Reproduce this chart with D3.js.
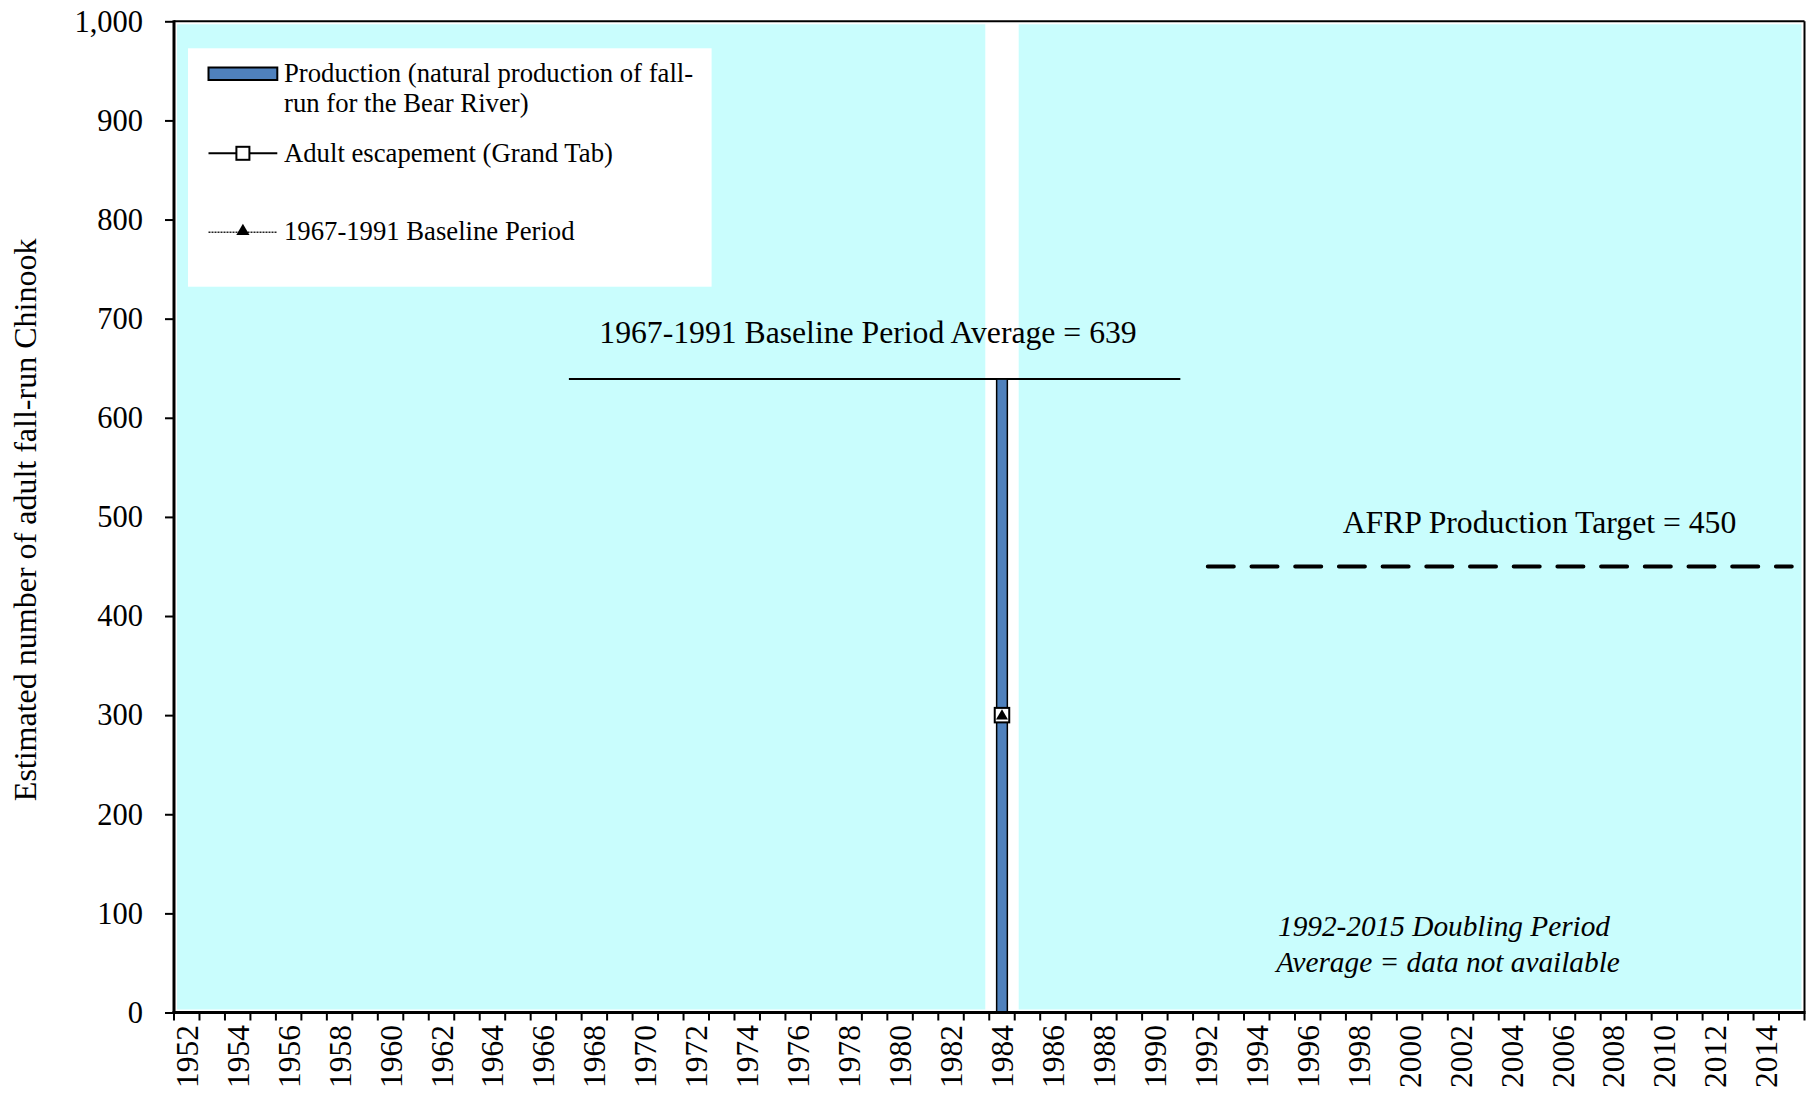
<!DOCTYPE html>
<html>
<head>
<meta charset="utf-8">
<script src="https://cdn.jsdelivr.net/npm/d3@7"></script>
<style>
  html, body { margin: 0; padding: 0; background: #ffffff; }
  svg { display: block; }
  text { font-family: "Liberation Serif", "Times New Roman", serif; fill: #000; }
</style>
</head>
<body>
<svg id="chart" width="1816" height="1101"></svg>
<script>
// ---------------- DATA ----------------
const years = [1952,1953,1954,1955,1956,1957,1958,1959,1960,1961,1962,1963,1964,1965,1966,1967,
  1968,1969,1970,1971,1972,1973,1974,1975,1976,1977,1978,1979,1980,1981,1982,1983,1984,1985,
  1986,1987,1988,1989,1990,1991,1992,1993,1994,1995,1996,1997,1998,1999,2000,2001,2002,2003,
  2004,2005,2006,2007,2008,2009,2010,2011,2012,2013,2014,2015];
const xTickLabels = [1952,1954,1956,1958,1960,1962,1964,1966,1968,1970,1972,1974,1976,1978,1980,
  1982,1984,1986,1988,1990,1992,1994,1996,1998,2000,2002,2004,2006,2008,2010,2012,2014];
const yTicks = [0,100,200,300,400,500,600,700,800,900,1000];

const productionYears = [1984];
const productionValues = [639];
const escapementYears = [1984];
const escapementValues = [300];
const baselineYears = [1984];
const baselineValues = [300];
const highlightYears = [1984];

const baselineAverage = 639;
const baselinePeriod = [1967, 1991];
const targetValue = 450;
const targetPeriod = [1992, 2015];

const legendLabels = [
  ["Production (natural production of fall-", "run for the Bear River)"],
  ["Adult escapement (Grand Tab)"],
  ["1967-1991 Baseline Period"]
];
const yAxisTitle = "Estimated number of adult fall-run Chinook";
const baselineLabel = "1967-1991 Baseline Period Average = 639";
const targetLabel = "AFRP Production Target = 450";
const doublingLabel = ["1992-2015 Doubling Period", "Average = data not available"];

// ---------------- LAYOUT ----------------
const svg = d3.select("#chart");
const L = 174, R = 1804.5, T = 21.3, B = 1012.5;
const x = d3.scaleBand().domain(years).range([L, R]).padding(0);
const y = d3.scaleLinear().domain([0, 1000]).range([B, T]);
const bw = x.bandwidth();
const cx = d => x(d) + bw / 2;

const BLUE = "#4f81bd";
const CYAN = "#c9fdfd";

// plot background
svg.append("rect").attr("x", L).attr("y", T).attr("width", R - L).attr("height", B - T).attr("fill", "#fff");
svg.append("rect").attr("x", L + 3).attr("y", T + 3).attr("width", R - L - 6).attr("height", B - T - 6).attr("fill", CYAN);

// white highlight stripe
svg.selectAll(".stripe").data(highlightYears).join("rect")
  .attr("x", d => cx(d) - bw * 0.655).attr("width", bw * 1.31)
  .attr("y", T + 1).attr("height", B - T - 1).attr("fill", "#fff");

// legend box
svg.append("rect").attr("x", 188).attr("y", 48.3).attr("width", 523.6).attr("height", 238.4).attr("fill", "#fff");

// baseline average line
svg.append("line")
  .attr("x1", cx(baselinePeriod[0])).attr("x2", cx(baselinePeriod[1]))
  .attr("y1", y(baselineAverage)).attr("y2", y(baselineAverage))
  .attr("stroke", "#000").attr("stroke-width", 2);

// target dashed line
svg.append("line")
  .attr("x1", cx(targetPeriod[0]) + 2).attr("x2", cx(targetPeriod[1]))
  .attr("y1", y(targetValue)).attr("y2", y(targetValue))
  .attr("stroke", "#000").attr("stroke-width", 4)
  .attr("stroke-dasharray", "26,17.7").attr("stroke-linecap", "round");

// production bars
const barW = bw * 0.42;
svg.selectAll(".bar").data(productionYears.map((d, i) => ({year: d, value: productionValues[i]}))).join("rect")
  .attr("x", d => cx(d.year) - barW / 2).attr("width", barW)
  .attr("y", d => y(d.value)).attr("height", d => B - y(d.value))
  .attr("fill", BLUE).attr("stroke", "#000").attr("stroke-width", 1.5);

// escapement markers (open squares)
const sq = 14.5;
svg.selectAll(".esc").data(escapementYears.map((d, i) => ({year: d, value: escapementValues[i]}))).join("rect")
  .attr("x", d => cx(d.year) - sq / 2).attr("y", d => y(d.value) - sq / 2)
  .attr("width", sq).attr("height", sq)
  .attr("fill", "#fff").attr("stroke", "#000").attr("stroke-width", 2);

// baseline markers (filled triangles)
const tri = d3.symbol().type(d3.symbolTriangle).size(62);
svg.selectAll(".base").data(baselineYears.map((d, i) => ({year: d, value: baselineValues[i]}))).join("path")
  .attr("d", tri)
  .attr("transform", d => `translate(${cx(d.year)},${y(d.value) + 1})`)
  .attr("fill", "#000");

// ---------------- AXES ----------------
const yAxis = d3.axisLeft(y).tickValues(yTicks).tickSize(9).tickPadding(22).tickFormat(d3.format(","));
const gy = svg.append("g").attr("transform", `translate(${L},0)`).call(yAxis);
gy.select(".domain").remove();
gy.selectAll(".tick line").attr("stroke", "#000").attr("stroke-width", 2);
gy.selectAll(".tick text").attr("font-size", 30.5).attr("font-family", "Liberation Serif, serif").attr("fill", "#000");

const xAxis = d3.axisBottom(x).tickValues(xTickLabels).tickSize(0).tickPadding(0);
const gx = svg.append("g").attr("transform", `translate(0,${B})`).call(xAxis);
gx.select(".domain").remove();
gx.selectAll(".tick text")
  .attr("transform", "rotate(-90)")
  .attr("x", -12.5).attr("y", 0).attr("dy", "0.35em")
  .attr("text-anchor", "end")
  .attr("font-size", 31.5).attr("font-family", "Liberation Serif, serif").attr("fill", "#000");

// x tick marks at category boundaries
const boundaries = years.map(d => x(d)).concat([R]);
svg.append("g").selectAll("line").data(boundaries).join("line")
  .attr("x1", d => d).attr("x2", d => d).attr("y1", B).attr("y2", B + 8)
  .attr("stroke", "#000").attr("stroke-width", 2);

// frame
svg.append("line").attr("x1", L).attr("x2", R).attr("y1", T).attr("y2", T).attr("stroke", "#000").attr("stroke-width", 2);
svg.append("line").attr("x1", R).attr("x2", R).attr("y1", T).attr("y2", B).attr("stroke", "#000").attr("stroke-width", 2);
svg.append("line").attr("x1", L).attr("x2", L).attr("y1", T - 1).attr("y2", B + 1.5).attr("stroke", "#000").attr("stroke-width", 3);
svg.append("line").attr("x1", L - 1.5).attr("x2", R + 1).attr("y1", B).attr("y2", B).attr("stroke", "#000").attr("stroke-width", 3);

// axis title
svg.append("text")
  .attr("transform", `translate(36,${(T + B) / 2 + 3}) rotate(-90)`)
  .attr("text-anchor", "middle")
  .attr("font-size", 32)
  .text(yAxisTitle);

// ---------------- ANNOTATIONS ----------------
svg.append("text").attr("x", 599.3).attr("y", 343.3).attr("font-size", 31.7).text(baselineLabel);
svg.append("text").attr("x", 1342.7).attr("y", 532.7).attr("font-size", 31.7).text(targetLabel);
svg.append("text").attr("x", 1444).attr("y", 936).attr("text-anchor", "middle").attr("font-size", 29.3)
  .attr("font-style", "italic").text(doublingLabel[0]);
svg.append("text").attr("x", 1448).attr("y", 971.5).attr("text-anchor", "middle").attr("font-size", 29.3)
  .attr("font-style", "italic").text(doublingLabel[1]);

// ---------------- LEGEND ----------------
const lg = svg.append("g");
const lx1 = 208.5, lx2 = 277.3, lmid = (lx1 + lx2) / 2, ltx = 284;
lg.append("rect").attr("x", lx1).attr("y", 67.5).attr("width", lx2 - lx1).attr("height", 12.5)
  .attr("fill", BLUE).attr("stroke", "#000").attr("stroke-width", 2);
lg.append("text").attr("x", ltx).attr("y", 81.7).attr("font-size", 26.7).text(legendLabels[0][0]);
lg.append("text").attr("x", ltx).attr("y", 111.7).attr("font-size", 26.7).text(legendLabels[0][1]);

lg.append("line").attr("x1", lx1).attr("x2", lx2).attr("y1", 153.3).attr("y2", 153.3).attr("stroke", "#000").attr("stroke-width", 2);
lg.append("rect").attr("x", lmid - 6.5).attr("y", 153.3 - 6.5).attr("width", 13).attr("height", 13)
  .attr("fill", "#fff").attr("stroke", "#000").attr("stroke-width", 2);
lg.append("text").attr("x", ltx).attr("y", 161.7).attr("font-size", 26.7).text(legendLabels[1][0]);

lg.append("line").attr("x1", lx1).attr("x2", lx2).attr("y1", 232.3).attr("y2", 232.3).attr("stroke", "#222").attr("stroke-width", 1.5)
  .attr("stroke-dasharray", "2,1");
lg.append("path").attr("d", d3.symbol().type(d3.symbolTriangle).size(75)).attr("transform", `translate(${lmid},${232.3 - 1})`).attr("fill", "#000");
lg.append("text").attr("x", ltx).attr("y", 240.3).attr("font-size", 26.7).text(legendLabels[2][0]);
</script>
</body>
</html>
